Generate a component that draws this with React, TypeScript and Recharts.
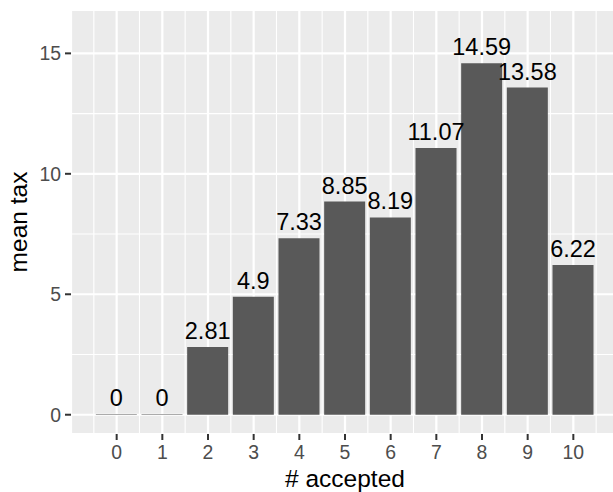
import { BarChart, Bar, XAxis, YAxis, CartesianGrid, LabelList } from 'recharts';

// # accepted vs mean tax
const accepted = [0, 1, 2, 3, 4, 5, 6, 7, 8, 9, 10];
const meanTax = [0, 0, 2.81, 4.9, 7.33, 8.85, 8.19, 11.07, 14.59, 13.58, 6.22];

const xTicks = [0, 1, 2, 3, 4, 5, 6, 7, 8, 9, 10];
const xMinorTicks = [-0.5, 0.5, 1.5, 2.5, 3.5, 4.5, 5.5, 6.5, 7.5, 8.5, 9.5, 10.5];
const yTicks = [0, 5, 10, 15];
const yMinorTicks = [2.5, 7.5, 12.5];

const FONT = '"Liberation Sans", Arial, sans-serif';

const data = accepted.map((a, i) => ({ accepted: a, tax: meanTax[i] }));

function YTitle(props: any) {
    const { viewBox } = props;
    const x = viewBox.x + 27;
    const y = viewBox.y + viewBox.height / 2;
    return (
        <text x={x} y={y} transform={`rotate(-90, ${x}, ${y})`} textAnchor="middle"
            fontSize={24.5} fontFamily={FONT} fill="#000">
            mean tax
        </text>
    );
}

function XTitle(props: any) {
    const { viewBox } = props;
    return (
        <text x={viewBox.x + viewBox.width / 2} y={viewBox.y + 53} textAnchor="middle"
            fontSize={24.5} fontFamily={FONT} fill="#000">
            # accepted
        </text>
    );
}

export default function App() {
    const tickStyle = { fill: '#4D4D4D', fontSize: 19.4, fontFamily: FONT };
    const tickLine = { stroke: '#333333', strokeWidth: 2 };

    return (
        <div style={{ position: 'absolute', left: 0, top: 0, width: 613, height: 492, overflow: 'hidden', background: '#fff' }}>
            <BarChart width={619} height={492} data={data} margin={{ top: 10, right: 0, bottom: 0, left: 0 }}>
                <CartesianGrid xAxisId="minor" yAxisId="minor" fill="#EBEBEB" stroke="#FFFFFF" strokeWidth={1.1} />
                <CartesianGrid stroke="#FFFFFF" strokeWidth={2.2} />
                <XAxis dataKey="accepted" type="number" domain={[-1, 11]} ticks={xTicks} interval={0}
                    allowDataOverflow height={58} axisLine={false} tickSize={6} tickMargin={5}
                    tick={tickStyle} tickLine={tickLine} label={<XTitle />} />
                <XAxis xAxisId="minor" dataKey="accepted" type="number" domain={[-1, 11]} ticks={xMinorTicks}
                    interval={0} allowDataOverflow hide />
                <YAxis type="number" domain={[-0.8, 16.8]} ticks={yTicks} interval={0} allowDataOverflow
                    width={71} axisLine={false} tickSize={6} tickMargin={4}
                    tick={tickStyle} tickLine={tickLine} label={<YTitle />} />
                <YAxis yAxisId="minor" type="number" domain={[-0.8, 16.8]} ticks={yMinorTicks}
                    interval={0} allowDataOverflow hide />
                <Bar dataKey="tax" fill="#595959" barSize={41} minPointSize={0.5} isAnimationActive={false}>
                    <LabelList dataKey="tax" position="top" offset={8} fill="#000"
                        fontSize={23.5} fontFamily={FONT} />
                </Bar>
            </BarChart>
        </div>
    );
}
